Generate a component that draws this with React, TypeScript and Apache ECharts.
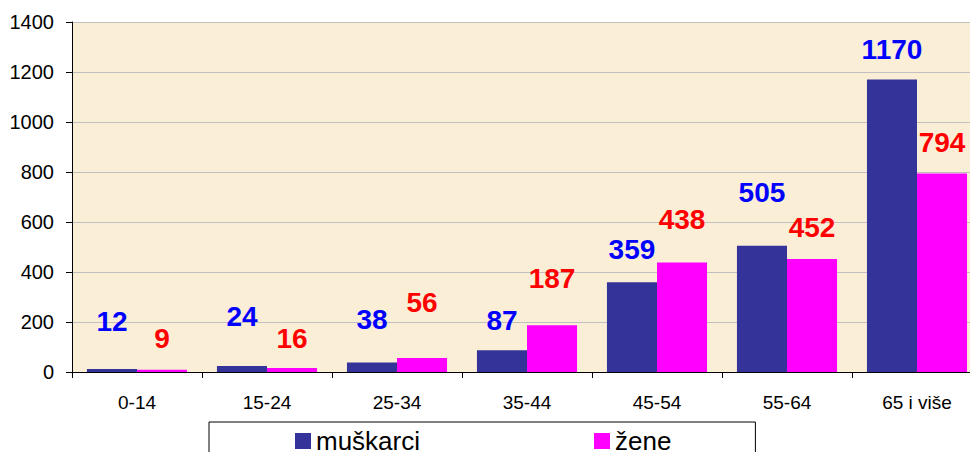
import React, { useEffect, useRef } from "react";
import * as echarts from "echarts";

const categories = ["0-14", "15-24", "25-34", "35-44", "45-54", "55-64", "65 i više"];
const maleValues = [12, 24, 38, 87, 359, 505, 1170];
const femaleValues = [9, 16, 56, 187, 438, 452, 794];
const seriesNames = ["muškarci", "žene"];
const yTicks = { min: 0, max: 1400, interval: 200 };

// extra upward shift (px) of each value label, as placed in the reference
const maleLabelLift = [18, 20, 13, 0, 3, 23, 0];
const femaleLabelLift = [1, 0, 26, 17, 13, 2, 1];

const FONT = "'Liberation Sans', Arial, sans-serif";

export default function App() {
  const ref = useRef<HTMLDivElement>(null);

  useEffect(() => {
    document.body.style.margin = "0";
    document.body.style.overflow = "hidden";
    if (!ref.current) return;
    const chart = echarts.init(ref.current, null, { renderer: "svg" });

    const mkData = (vals: number[], lifts: number[]) =>
      vals.map((v, i) => ({ value: v, label: { offset: [0, -lifts[i]] } }));

    const labelStyle = (color: string) => ({
      show: true,
      position: "top" as const,
      distance: 16,
      color,
      fontSize: 28,
      fontWeight: "bold" as const,
      fontFamily: FONT,
    });

    chart.setOption({
      animation: false,
      backgroundColor: "#ffffff",
      textStyle: { fontFamily: FONT },
      grid: {
        left: 72,
        right: 0,
        top: 22,
        bottom: 80,
        show: true,
        backgroundColor: "#FAEED7",
        borderWidth: 0,
      },
      legend: {
        data: seriesNames,
        left: 209,
        top: 422,
        orient: "horizontal",
        icon: "rect",
        itemWidth: 16,
        itemHeight: 16,
        itemGap: 174,
        padding: [6, 84, 10, 86],
        borderColor: "#000000",
        borderWidth: 1,
        textStyle: { fontSize: 26, color: "#000000", fontFamily: FONT },
      },
      xAxis: {
        type: "category",
        data: categories,
        axisLine: { show: true, lineStyle: { color: "#000000", width: 1 } },
        axisTick: { show: true, length: 6, lineStyle: { color: "#000000" } },
        axisLabel: { fontSize: 19, color: "#000000", margin: 21, fontFamily: FONT },
        splitLine: { show: false },
      },
      yAxis: {
        type: "value",
        min: yTicks.min,
        max: yTicks.max,
        interval: yTicks.interval,
        axisLine: { show: true, lineStyle: { color: "#000000", width: 1 } },
        axisTick: { show: true, length: 6, lineStyle: { color: "#000000" } },
        axisLabel: {
          fontSize: 20,
          color: "#000000",
          margin: 18,
          fontFamily: FONT,
          formatter: (v: number) => String(v),
        },
        splitLine: { show: true, lineStyle: { color: "#C0C0C0", width: 1 } },
      },
      series: [
        {
          name: seriesNames[0],
          type: "bar",
          data: mkData(maleValues, maleLabelLift),
          itemStyle: { color: "#333399" },
          barGap: "0%",
          barCategoryGap: "23%",
          label: labelStyle("#0000FF"),
        },
        {
          name: seriesNames[1],
          type: "bar",
          data: mkData(femaleValues, femaleLabelLift),
          itemStyle: { color: "#FF00FF" },
          barGap: "0%",
          barCategoryGap: "23%",
          label: labelStyle("#FF0000"),
        },
      ],
    });

    return () => chart.dispose();
  }, []);

  return (
    <div style={{ width: 970, height: 452, overflow: "hidden" }}>
      <div ref={ref} style={{ width: 982, height: 452 }} />
    </div>
  );
}
